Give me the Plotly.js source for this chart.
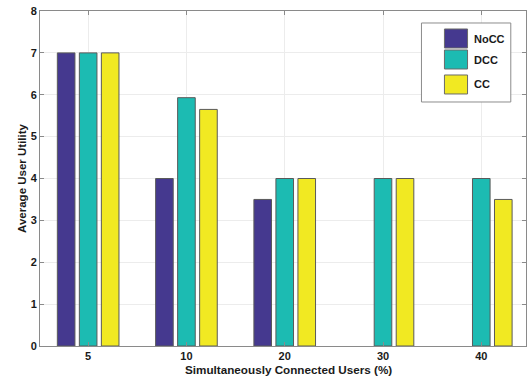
<!DOCTYPE html>
<html>
<head>
<meta charset="utf-8">
<script src="https://cdn.plot.ly/plotly-3.0.1.min.js"></script>
<style>
  html, body { margin: 0; padding: 0; background: #fff; }
  #chart { width: 527px; height: 381px; }
</style>
</head>
<body>
<div id="chart"></div>
<script>
// Share of users connected at the same time (%)
const userShares = ['5', '10', '20', '30', '40'];

// Average utility per scheme
const seriesNames = ['NoCC', 'DCC', 'CC'];
const noccUtility = [7, 4, 3.5, 0, 0];
const dccUtility  = [7, 5.93, 4, 4, 4];
const ccUtility   = [7, 5.65, 4, 4, 3.5];

const yTicks = [0, 1, 2, 3, 4, 5, 6, 7, 8];

const colors = ['#45398f', '#1cbbb2', '#f1e922'];
const font = 'Liberation Sans, Arial, Helvetica, sans-serif';

const values = [noccUtility, dccUtility, ccUtility];
const traces = values.map((v, i) => ({
  type: 'bar',
  name: seriesNames[i],
  x: userShares,
  y: v,
  marker: {
    color: colors[i],
    // zero-height bars get no outline so nothing shows on the baseline
    line: { color: '#5a5a5a', width: v.map(d => (d === 0 ? 0 : 1)) }
  },
  showlegend: false,
  hoverinfo: 'x+y+name'
}));

// Legend box drawn as paper-space shapes, with the entries taken from the series
const shapes = [{
  type: 'rect', xref: 'paper', yref: 'paper',
  x0: 0.7849, x1: 0.9687, y0: 0.7284, y1: 0.9642,
  fillcolor: '#ffffff', line: { color: '#8c8c8c', width: 1 }, layer: 'above'
}];
const annotations = [];
const rowTops = [0.9463, 0.8836, 0.8090];
seriesNames.forEach((name, i) => {
  const yt = rowTops[i];
  shapes.push({
    type: 'rect', xref: 'paper', yref: 'paper',
    x0: 0.8322, x1: 0.8797, y0: yt - 0.0567, y1: yt,
    fillcolor: colors[i], line: { color: '#6a6a6a', width: 1 }, layer: 'above'
  });
  annotations.push({
    xref: 'paper', yref: 'paper', x: 0.8880, y: yt - 0.0284,
    xanchor: 'left', yanchor: 'middle', showarrow: false,
    text: '<b>' + name + '</b>',
    font: { family: font, size: 11, color: '#1a1a1a' }
  });
});

// x-axis title, set slightly right of the plot centre
annotations.push({
  xref: 'paper', yref: 'paper', x: 0.512, y: -0.0716,
  xanchor: 'center', yanchor: 'middle', showarrow: false,
  text: '<b>Simultaneously Connected Users (%)</b>',
  font: { family: font, size: 11.7, color: '#1a1a1a' }
});

const axisCommon = {
  showline: true, linecolor: '#8a8a8a', linewidth: 1, mirror: 'ticks',
  ticks: 'inside', ticklen: 4, tickcolor: '#8a8a8a',
  showgrid: true, gridcolor: '#ececec', gridwidth: 1,
  zeroline: false,
  tickfont: { family: font, size: 11, color: '#1a1a1a', weight: 'bold' }
};

const layout = {
  width: 527, height: 381,
  margin: { l: 40, r: 1, t: 11, b: 35 },
  paper_bgcolor: '#ffffff', plot_bgcolor: '#ffffff',
  barmode: 'group', bargap: 0.328, bargroupgap: 0.2,
  font: { family: font, color: '#1a1a1a' },
  xaxis: Object.assign({}, axisCommon, {
    type: 'category', range: [-0.49, 4.455]
  }),
  yaxis: Object.assign({}, axisCommon, {
    range: [0, 8], tickvals: yTicks, ticktext: yTicks.map(String),
    title: { text: 'Average User Utility', standoff: 1,
             font: { family: font, size: 11.5, color: '#1a1a1a', weight: 'bold' } }
  }),
  shapes: shapes,
  annotations: annotations
};

Plotly.newPlot('chart', traces, layout, { displayModeBar: false, staticPlot: true });
</script>
</body>
</html>
